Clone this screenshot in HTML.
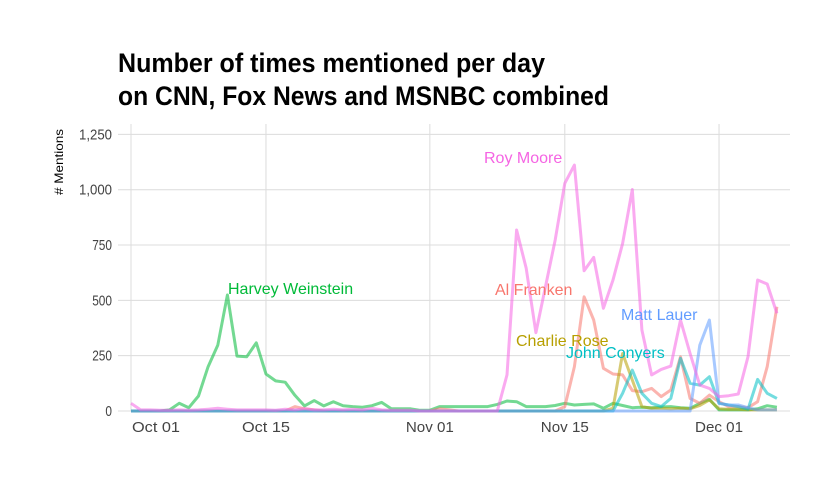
<!DOCTYPE html>
<html><head><meta charset="utf-8"><style>
body{margin:0;background:#fff}
svg{display:block}
text{font-family:"Liberation Sans Narrow","Liberation Sans",sans-serif}
</style></head><body>
<svg id="chart" width="840" height="480" xmlns="http://www.w3.org/2000/svg">
<rect width="840" height="480" fill="#fff"/>
<g>
<text x="118" y="72" font-size="27" font-weight="bold" textLength="427" lengthAdjust="spacingAndGlyphs">Number of times mentioned per day</text>
<text x="118" y="105" font-size="27" font-weight="bold" textLength="491" lengthAdjust="spacingAndGlyphs">on CNN, Fox News and MSNBC combined</text>
</g>
<text transform="translate(63,162) rotate(-90)" text-anchor="middle" font-size="12" fill="#000" textLength="66" lengthAdjust="spacingAndGlyphs"># Mentions</text>
<g id="grid"></g>
<g id="ticks"></g>
<g id="series"></g>
<g id="labels"></g>
</svg>
<script>
const yTicks=[0,250,500,750,1000,1250];
const yTickLabels=["0","250","500","750","1,000","1,250"];
const xTickDays=[0,14,31,45,61];
const xTickLabels=["Oct 01","Oct 15","Nov 01","Nov 15","Dec 01"];
const seriesNames=["Harvey Weinstein","Al Franken","Charlie Rose","John Conyers","Matt Lauer","Roy Moore"];
const harvey=[0,0,0,0,5,35,15,68,200,298,524,248,245,308,167,136,130,71,23,47,23,42,24,20,17,24,39,10,10,10,3,3,20,20,20,20,20,20,30,45,42,20,20,20,25,35,27,30,32,12,35,25,15,17,15,18,20,15,12,35,53,5,5,5,5,10,24,17];
const franken=[0,0,0,0,0,0,0,0,0,0,0,0,0,0,0,0,0,20,10,5,0,0,0,0,0,0,0,0,0,0,0,0,10,5,0,0,0,0,0,0,0,0,0,0,0,20,200,516,411,193,167,163,92,87,102,65,95,245,57,35,72,42,20,20,15,42,200,471];
const rose=[0,0,0,0,0,0,0,0,0,0,0,0,0,0,0,0,0,0,0,0,0,0,0,0,0,0,0,0,0,0,0,0,0,0,0,0,0,0,0,0,0,0,0,0,0,0,0,0,0,0,12,260,140,20,12,12,10,12,10,25,50,10,8,8,5,5,5,5];
const conyers=[0,0,0,0,0,0,0,0,0,0,0,0,0,0,0,0,0,0,0,0,0,0,0,0,0,0,0,0,0,0,0,0,0,0,0,0,0,0,0,0,0,0,0,0,0,0,0,0,0,0,0,80,185,80,35,20,57,238,125,117,155,35,27,20,8,143,80,57];
const lauer=[0,0,0,0,0,0,0,0,0,0,0,0,0,0,0,0,0,0,0,0,0,0,0,0,0,0,0,0,0,0,0,0,0,0,0,0,0,0,0,0,0,0,0,0,0,0,0,0,0,0,0,0,0,0,0,0,0,0,0,298,411,35,27,27,15,5,5,5];
const moore=[35,5,5,3,3,5,3,5,8,12,8,5,5,5,5,3,8,5,10,5,5,8,5,8,5,12,5,3,3,3,0,0,0,0,0,0,0,0,0,163,818,645,354,562,773,1029,1111,634,694,464,592,757,1001,366,163,188,203,411,260,117,102,65,69,77,245,592,574,441];
const colors=["#00BA38","#F8766D","#B79F00","#00BFC4","#619CFF","#F564E3"];
const labelPos=[[228,294],[495,295],[516,346],[566,358],[621,320],[484,163]];
const X0=131,PX=9.64,Y0=411,PY=0.2213;
const xs=d=>X0+d*PX, ys=v=>Y0-v*PY;
const NS="http://www.w3.org/2000/svg";
const grid=document.getElementById('grid'),ticks=document.getElementById('ticks'),ser=document.getElementById('series'),lab=document.getElementById('labels');
function mk(tag,attrs,parent){const e=document.createElementNS(NS,tag);for(const k in attrs)e.setAttribute(k,attrs[k]);parent.appendChild(e);return e;}
yTicks.forEach((v,i)=>{
 const l=mk('line',{x1:118,x2:790,y1:ys(v),y2:ys(v),stroke:"#dcdcdc","stroke-width":1},grid);
 
 
 const s=yTickLabels[i];
 const t=mk('text',{x:112,y:ys(v)+5,"text-anchor":"end","font-size":15,fill:"#444",textLength:s.length*6.6,lengthAdjust:"spacingAndGlyphs"},ticks);
 t.textContent=s;
 
 
});
xTickDays.forEach((d,i)=>{
 const l=mk('line',{x1:xs(d),x2:xs(d),y1:124,y2:411,stroke:"#dcdcdc","stroke-width":1},grid);
 
 
 const cx=i===0?xs(d)+25:xs(d);
 const t=mk('text',{x:cx,y:432,"text-anchor":"middle","font-size":15,fill:"#444",textLength:48,lengthAdjust:"spacingAndGlyphs"},ticks);
 t.textContent=xTickLabels[i];
 
 
});
[harvey,franken,rose,conyers,lauer,moore].forEach((arr,s)=>{
 const pts=arr.map((v,d)=>xs(d).toFixed(1)+","+ys(v).toFixed(1)).join(" ");
 const p=mk('polyline',{points:pts,fill:"none",stroke:colors[s],"stroke-width":3,"stroke-opacity":0.55,"stroke-linejoin":"round"},ser);
 
 
 const t=mk('text',{x:labelPos[s][0],y:labelPos[s][1],"font-size":16,fill:colors[s],style:'font-family:"Liberation Sans",sans-serif'},lab);
 t.textContent=seriesNames[s];
 
 
});
</script>
</body></html>
